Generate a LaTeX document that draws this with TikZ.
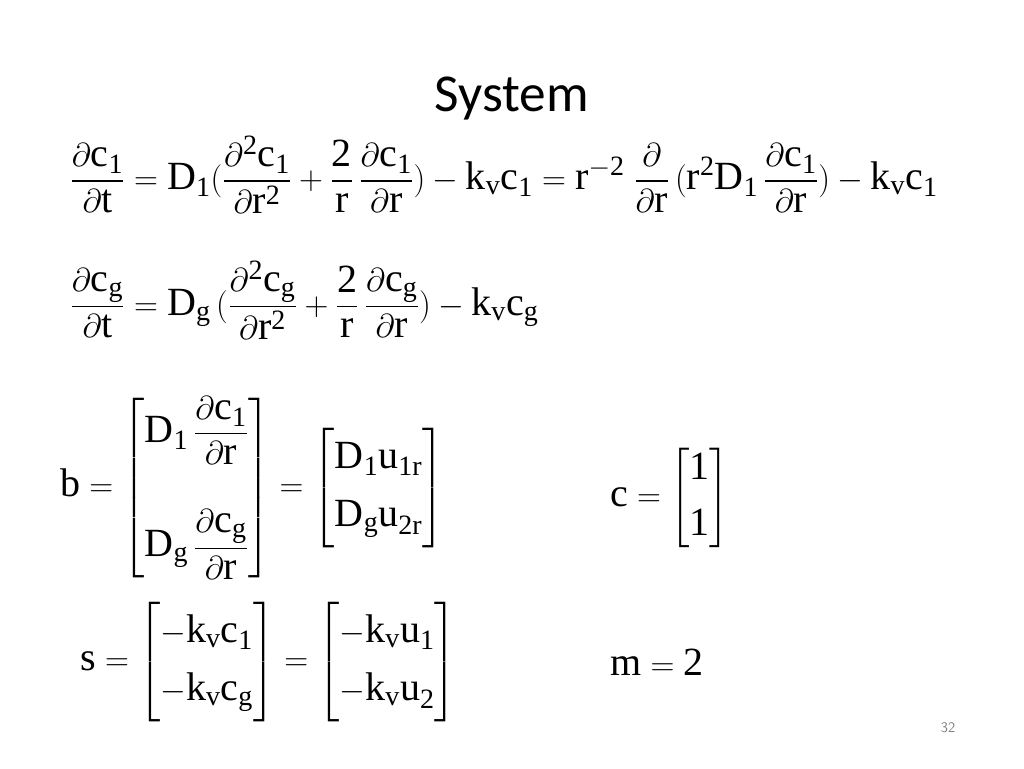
\documentclass[tikz,border=0pt]{standalone}
\usepackage{amsmath}
\usepackage{fontspec}
\setmainfont{Liberation Serif}
\newfontfamily\titlefont{Carlito}
\newcommand{\R}[1]{\mathrm{#1}}
\begin{document}
\begin{tikzpicture}[x=0.75pt,y=-0.75pt,eq/.style={anchor=west,inner sep=0pt,font=\fontsize{30}{36}\selectfont}]
\useasboundingbox (0,0) rectangle (1024,768);
\node[font=\titlefont\fontsize{40}{48}\selectfont] (title) at (512,98) {System};
\node[eq] (e1) at (70,175) {$\displaystyle \frac{\partial \R{c}_{\R{1}}}{\partial \R{t}}=\R{D}_{\R{1}}(\frac{\partial^{\R{2}}\R{c}_{\R{1}}}{\partial \R{r}^{\R{2}}}+\frac{\R{2}}{\R{r}}\,\frac{\partial \R{c}_{\R{1}}}{\partial \R{r}})-\R{k}_\R{v}\R{c}_{\R{1}}=\R{r}^{-\R{2}}\;\frac{\partial}{\partial \R{r}}\,(\R{r}^{\R{2}}\R{D}_{\R{1}}\,\frac{\partial \R{c}_{\R{1}}}{\partial \R{r}})-\R{k}_\R{v}\R{c}_{\R{1}}$};
\node[eq] (e2) at (70,300) {$\displaystyle \frac{\partial \R{c}_\R{g}}{\partial \R{t}}=\R{D}_\R{g}\,(\frac{\partial^{\R{2}}\R{c}_\R{g}}{\partial \R{r}^{\R{2}}}+\frac{\R{2}}{\R{r}}\,\frac{\partial \R{c}_\R{g}}{\partial \R{r}})-\R{k}_\R{v}\R{c}_\R{g}$};
\node[eq] (e3) at (60,488) {$\displaystyle \R{b}=\begin{bmatrix}\R{D}_{\R{1}}\,\dfrac{\partial \R{c}_{\R{1}}}{\partial \R{r}}\\[40pt] \R{D}_\R{g}\,\dfrac{\partial \R{c}_\R{g}}{\partial \R{r}}\end{bmatrix}=\begin{bmatrix}\R{D}_{\R{1}}\R{u}_{\R{1r}}\\[8pt] \R{D}_\R{g}\R{u}_{\R{2r}}\end{bmatrix}$};
\node[eq] (e4) at (610,498) {$\R{c}=\begin{bmatrix}\R{1}\\[6pt]\R{1}\end{bmatrix}$};
\node[eq] (e5) at (80,662) {$\R{s}=\begin{bmatrix}-\R{k}_\R{v}\R{c}_{\R{1}}\\[8pt]-\R{k}_\R{v}\R{c}_\R{g}\end{bmatrix}=\begin{bmatrix}-\R{k}_\R{v}\R{u}_{\R{1}}\\[8pt]-\R{k}_\R{v}\R{u}_{\R{2}}\end{bmatrix}$};
\node[eq] (e6) at (610,662) {$\R{m}=\R{2}$};
\node[font=\fontsize{11}{13}\selectfont\sffamily,text=gray] (pg) at (948,728) {32};
\end{tikzpicture}
\end{document}
